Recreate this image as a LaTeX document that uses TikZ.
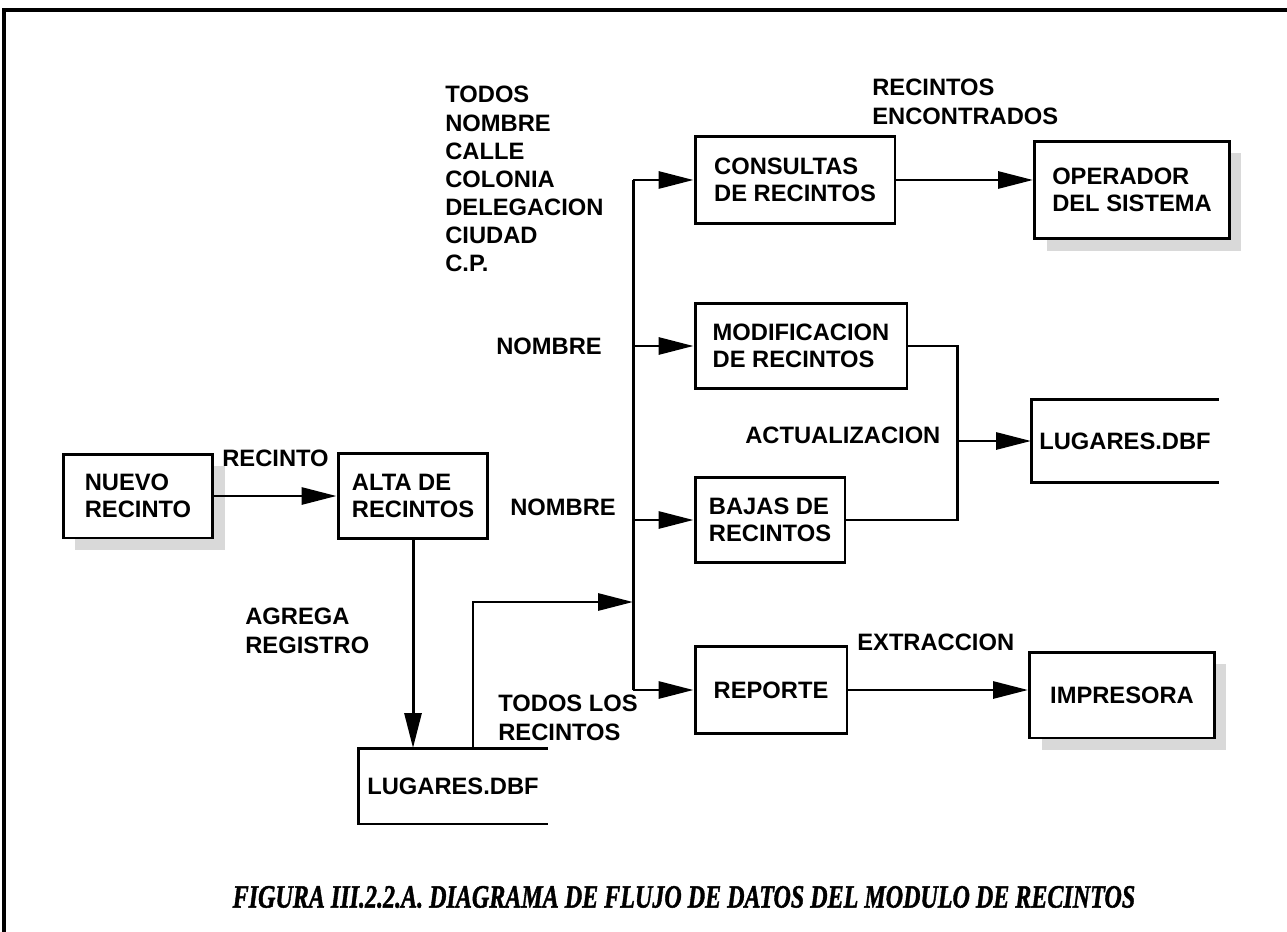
\documentclass[tikz,border=0pt]{standalone}
\usepackage{fontspec}
\usepackage{graphicx}
\setmainfont{Liberation Sans}
\newfontfamily\capfont{Liberation Serif}[BoldItalicFeatures={FakeBold=1.5}]
\usetikzlibrary{arrows.meta,shadows}

\tikzset{
  line/.style={line width=1.7pt},
  flow/.style={line, -{Triangle[length=0.7cm,width=0.34cm]}},
  proc/.style={draw, line width=1.7pt, align=left, inner sep=0pt,
    font=\bfseries\fontsize{13.5}{15.5}\selectfont},
  ext/.style={proc, drop shadow={shadow xshift=0.24cm, shadow yshift=-0.24cm,
    fill=gray!30, opacity=1}, fill=white},
  store/.style={proc, draw=none},
  lbl/.style={inner sep=0pt, align=left,
    font=\bfseries\fontsize{13.5}{16}\selectfont},
}

\begin{document}
\begin{tikzpicture}[x=0.02cm, y=-0.02cm]
  \useasboundingbox (0,0) rectangle (1287,932);
  \draw[line width=2pt] (4,932) -- (4,10) -- (1287,10);

  \node[ext, minimum width=3cm, minimum height=1.68cm] (nuevo) at (138,496) {NUEVO\\RECINTO};
  \node[proc, minimum width=3cm, minimum height=1.7cm] (alta) at (413,496) {ALTA DE\\RECINTOS};
  \node[store, minimum width=3.74cm, minimum height=1.46cm] (lugdb) at (453,786) {LUGARES.DBF};

  \node[proc, minimum width=4cm, minimum height=1.74cm] (consultas) at (795,180) {CONSULTAS\\DE RECINTOS};
  \node[proc, minimum width=4.24cm, minimum height=1.7cm] (modif) at (801,346) {MODIFICACION\\DE RECINTOS};
  \node[proc, minimum width=3cm, minimum height=1.7cm] (bajas) at (770,520) {BAJAS DE\\RECINTOS};
  \node[proc, minimum width=3.04cm, minimum height=1.74cm] (reporte) at (771,690) {REPORTE};

  \node[ext, minimum width=3.9cm, minimum height=1.96cm] (operador) at (1132,190) {OPERADOR\\DEL SISTEMA};
  \node[store, minimum width=3.7cm, minimum height=1.6cm] (lugb) at (1125,441) {LUGARES.DBF};
  \node[ext, minimum width=3.7cm, minimum height=1.72cm] (impresora) at (1122,695) {IMPRESORA};

  % archivos abiertos por la derecha
  \draw[line] (lugdb.north east) -- (lugdb.north west) -- (lugdb.south west) -- (lugdb.south east);
  \draw[line] (lugb.north east) -- (lugb.north west) -- (lugb.south west) -- (lugb.south east);

  \coordinate (tr) at (633,0);
  \coordinate (jn) at (957,0);
  \coordinate (merge) at (633,602);

  \draw[flow] (nuevo) -- (alta) node [lbl, midway, above=0.55cm] (recinto) {RECINTO};
  \draw[flow] (alta.south) -- (alta.south |- lugdb.north);
  \draw[flow] ([xshift=0.4cm]lugdb.north) |- (merge);

  \draw[line] (tr |- consultas.west) -- (tr |- reporte.west);
  \foreach \n in {consultas,modif,bajas,reporte}
    \draw[flow] (tr |- \n.west) -- (\n.west);

  \draw[flow] (consultas.east) -- (consultas.east -| operador.west);
  \draw[line] (modif.east) -- (modif.east -| jn) -- (bajas.east -| jn) -- (bajas.east);
  \draw[flow] (jn |- lugb.west) -- (lugb.west);
  \draw[flow] (reporte.east) -- (reporte.east -| impresora.west);

  \node[lbl, anchor=north west] (campos) at (445,86)
    {TODOS\\NOMBRE\\CALLE\\COLONIA\\DELEGACION\\CIUDAD\\C.P.};
  \node[lbl, anchor=west] (nombre1) at (496,346) {NOMBRE};
  \node[lbl, anchor=west] (nombre2) at (510,507) {NOMBRE};
  \node[lbl, anchor=north west] (agrega) at (245,608) {AGREGA\\REGISTRO};
  \node[lbl, anchor=north west] (todos) at (498,695) {TODOS LOS\\RECINTOS};
  \node[lbl, anchor=north west] (encontrados) at (872,79) {RECINTOS\\ENCONTRADOS};
  \node[lbl, anchor=west] (actual) at (745,435) {ACTUALIZACION};
  \node[lbl, anchor=west] (extraccion) at (857,642) {EXTRACCION};

  \node (caption) at (684,897)
    {\capfont\bfseries\itshape\fontsize{18.5}{20}\selectfont
     \scalebox{0.74}[1]{FIGURA III.2.2.A. DIAGRAMA DE FLUJO DE DATOS DEL MODULO DE RECINTOS}};
\end{tikzpicture}
\end{document}
